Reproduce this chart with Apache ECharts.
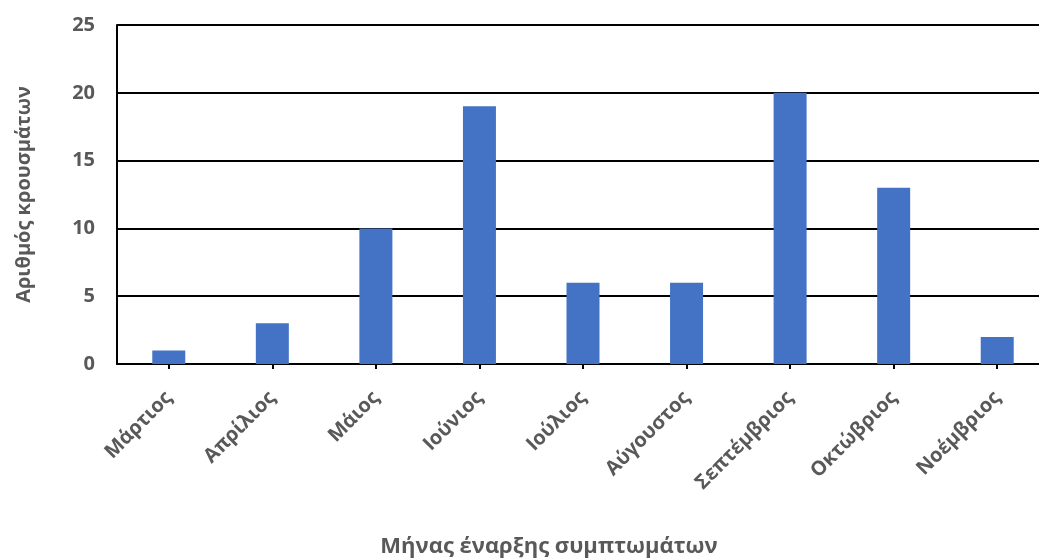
<!DOCTYPE html>
<html>
<head>
<meta charset="utf-8">
<script src="https://cdn.jsdelivr.net/npm/echarts@6/dist/echarts.min.js"></script>
<style>
  html, body { margin: 0; padding: 0; background: #fff; }
  #chart { width: 1039px; height: 558px; }
</style>
</head>
<body>
<div id="chart"></div>
<script>
// Cases by month of symptom onset
const months = ['Μάρτιος', 'Απρίλιος', 'Μάιος', 'Ιούνιος', 'Ιούλιος', 'Αύγουστος', 'Σεπτέμβριος', 'Οκτώβριος', 'Νοέμβριος'];
const cases = [1, 3, 10, 19, 6, 6, 20, 13, 2];
const yTicks = [0, 5, 10, 15, 20, 25];

const textColor = '#595959';
const fontFamily = '"Open Sans", "DejaVu Sans", sans-serif';

const chart = echarts.init(document.getElementById('chart'), null, { renderer: 'canvas' });
chart.setOption({
  animation: false,
  backgroundColor: '#ffffff',
  grid: { left: 117, top: 25, width: 932, height: 339, containLabel: false, outerBoundsMode: 'none' },
  graphic: [{
    type: 'text',
    x: 549,
    y: 547,
    style: {
      text: 'Μήνας έναρξης συμπτωμάτων',
      fill: textColor,
      font: 'bold 22px "Open Sans", "DejaVu Sans", sans-serif',
      align: 'center',
      verticalAlign: 'middle'
    }
  }],
  xAxis: {
    type: 'category',
    data: months,
    boundaryGap: true,
    axisLine: { lineStyle: { color: '#000', width: 2 } },
    axisTick: { show: true, alignWithLabel: true, length: 5, lineStyle: { color: '#000', width: 2 } },
    axisLabel: { color: textColor, fontFamily, fontWeight: 'bold', fontSize: 20, rotate: 45, margin: 31 },
    splitLine: { show: false }
  },
  yAxis: {
    type: 'value',
    min: yTicks[0],
    max: yTicks[yTicks.length - 1],
    interval: 5,
    name: 'Αριθμός κρουσμάτων',
    nameLocation: 'middle',
    nameGap: 93,
    nameTextStyle: { color: textColor, fontFamily, fontWeight: 'bold', fontSize: 20, verticalAlign: 'middle' },
    axisLine: { show: true, lineStyle: { color: '#000', width: 2 } },
    axisTick: { show: false },
    axisLabel: { color: textColor, fontFamily, fontWeight: 'bold', fontSize: 20, margin: 22 },
    splitLine: { show: true, lineStyle: { color: '#000', width: 2 } }
  },
  series: [{
    type: 'bar',
    data: cases,
    barWidth: 33,
    itemStyle: { color: '#4472C4' }
  }]
});
</script>
</body>
</html>
